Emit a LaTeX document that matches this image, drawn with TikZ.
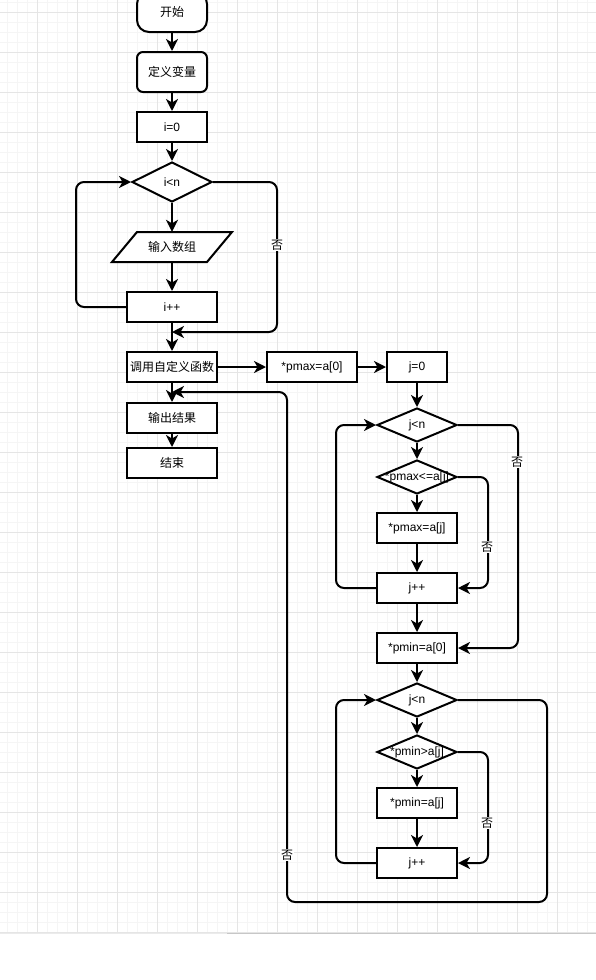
\documentclass[tikz,border=0pt]{standalone}
\usepackage{fontspec}
\setmainfont{Liberation Sans}
\newfontfamily\cjk{Noto Sans CJK SC}
\usetikzlibrary{shapes.geometric,arrows.meta}
\tikzset{
  minorgrid/.style={draw=black!4, line width=1pt},
  majorgrid/.style={draw=black!10, line width=1pt},
  box/.style={draw, line width=2pt, fill=white, inner sep=0pt, minimum height=30pt, font=\fontsize{12}{14}\selectfont},
  dia/.style={draw, diamond, line width=2pt, fill=white, inner sep=0pt, minimum width=80pt, minimum height=34pt},
  txt/.style={font=\fontsize{12}{14}\selectfont, inner sep=0pt},
  arr/.style={line width=2pt, -{Stealth[length=12pt,width=12pt,inset=3.5pt]}},
  lnk/.style={arr, rounded corners=8pt},
  lbl/.style={fill=white, inner sep=1pt, font=\cjk\fontsize{12}{13}\selectfont},
}
\begin{document}
\begin{tikzpicture}[x=1pt,y=-1pt]
\fill[white] (0,0) rectangle (596,980);
\useasboundingbox (0,0) rectangle (596,980);
% grid
\foreach \x in {7.3,17.3,...,596} \draw[minorgrid] (\x,0) -- (\x,933);
\foreach \y in {2.7,12.7,...,933} \draw[minorgrid] (0,\y) -- (596,\y);
\foreach \x in {37.3,77.3,...,596} \draw[majorgrid] (\x,0) -- (\x,933);
\foreach \y in {12.7,52.7,...,933} \draw[majorgrid] (0,\y) -- (596,\y);
\draw[black!8, line width=1pt] (0,933) -- (227,933);
\draw[black!22, line width=1pt] (227,933) -- (596,933);

% left column
\node[box, minimum width=70pt, minimum height=40pt, rounded corners=12pt] (start) at (172,12) {\cjk 开始};
\node[box, minimum width=70pt, minimum height=40pt, rounded corners=6pt] (def) at (172,72) {\cjk 定义变量};
\node[box, minimum width=70pt] (i0) at (172,127) {i=0};
\node[dia, minimum height=40pt, label={[txt]center:i<n}] (c1) at (172,182) {};
\draw[line width=2pt, fill=white] (137,232) -- (232,232) -- (207,262) -- (112,262) -- cycle;
\node[txt, minimum width=95pt, minimum height=30pt] (input) at (172,247) {\cjk 输入数组};
\node[box, minimum width=90pt] (inc1) at (172,307) {i++};
\coordinate (m1) at (172,332);
\node[box, minimum width=90pt] (call) at (172,367) {\cjk 调用自定义函数};
\coordinate (m2) at (172,392);
\node[box, minimum width=90pt] (out) at (172,418) {\cjk 输出结果};
\node[box, minimum width=90pt] (end) at (172,463) {\cjk 结束};

% right column
\node[box, minimum width=90pt] (pmax0) at (312,367) {*pmax=a[0]};
\node[box, minimum width=60pt] (j0) at (417,367) {j=0};
\node[dia, label={[txt]center:j<n}] (c2) at (417,425) {};
\node[dia, label={[txt]center:*pmax<=a[j]}] (d1) at (417,477) {};
\node[box, minimum width=80pt] (setmax) at (417,528) {*pmax=a[j]};
\node[box, minimum width=80pt] (inc2) at (417,588) {j++};
\node[box, minimum width=80pt] (pmin0) at (417,648) {*pmin=a[0]};
\node[dia, label={[txt]center:j<n}] (c3) at (417,700) {};
\node[dia, label={[txt]center:*pmin>a[j]}] (d2) at (417,752) {};
\node[box, minimum width=80pt] (setmin) at (417,803) {*pmin=a[j]};
\node[box, minimum width=80pt] (inc3) at (417,863) {j++};
\coordinate (r1) at (547,902);
\coordinate (r2) at (287,392);

% straight connectors
\draw[arr] (start) -- (def);
\draw[arr] (def) -- (i0);
\draw[arr] (i0) -- (c1);
\draw[arr] (c1) -- (input);
\draw[arr] (input) -- (inc1);
\draw[arr] (inc1) -- (call);
\draw[arr] (call) -- (out);
\draw[arr] (out) -- (end);
\draw[arr] (call) -- (pmax0);
\draw[arr] (pmax0) -- (j0);
\draw[arr] (j0) -- (c2);
\draw[arr] (c2) -- (d1);
\draw[arr] (d1) -- (setmax);
\draw[arr] (setmax) -- (inc2);
\draw[arr] (inc2) -- (pmin0);
\draw[arr] (pmin0) -- (c3);
\draw[arr] (c3) -- (d2);
\draw[arr] (d2) -- (setmin);
\draw[arr] (setmin) -- (inc3);

% loops
\draw[lnk] (inc1.west) -- ++(-50,0) |- (c1.west);
\draw[lnk] (c1.east) -| ([xshift=105pt]m1) -- (m1);
\draw[lnk] (inc2.west) -- ++(-40,0) |- (c2.west);
\draw[lnk] (d1.east) -- ++(30,0) |- (inc2.east);
\draw[lnk] (c2.east) -- ++(60,0) |- (pmin0.east);
\draw[lnk] (inc3.west) -- ++(-40,0) |- (c3.west);
\draw[lnk] (d2.east) -- ++(30,0) |- (inc3.east);
\draw[lnk] (c3.east) -| (r1) -| (r2) -- (m2);

% labels
\node[lbl] at (277,245) {否};
\node[lbl] at (517,462) {否};
\node[lbl] at (487,547) {否};
\node[lbl] at (487,823) {否};
\node[lbl] at (287,855) {否};
\end{tikzpicture}
\end{document}
